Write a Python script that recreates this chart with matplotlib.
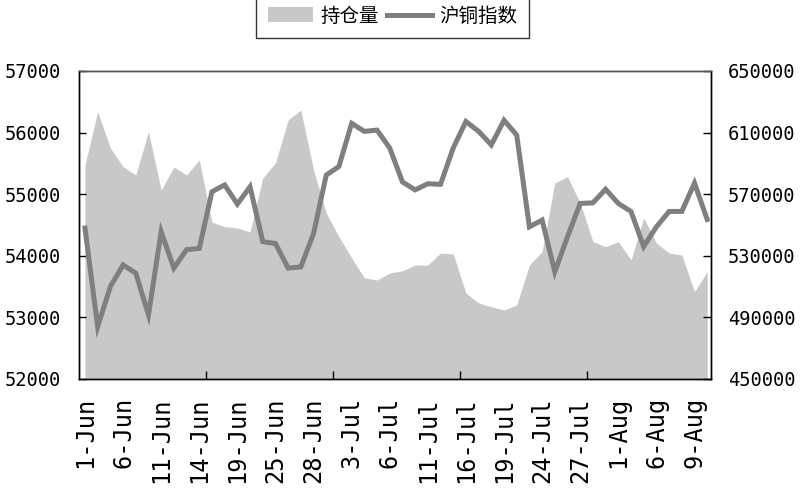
import matplotlib
matplotlib.use('Agg')
import matplotlib.pyplot as plt
from matplotlib.patches import Patch
from matplotlib.lines import Line2D

# 沪铜指数 (left axis)
index_values = [54450, 52850, 53500, 53850, 53720, 53040, 54390, 53800, 54100, 54120,
                55040, 55150, 54840, 55120, 54230, 54200, 53800, 53820, 54360, 55310,
                55450, 56150, 56020, 56040, 55750, 55200, 55070, 55170, 55160, 55750,
                56180, 56020, 55800, 56200, 55960, 54470, 54580, 53740, 54310, 54850,
                54860, 55080, 54850, 54720, 54150, 54470, 54720, 54720, 55180, 54590]
# 持仓量 (right axis)
oi_values = [589000, 623600, 600000, 587900, 582500, 610600, 572700, 587700, 582500, 592200,
             551900, 548900, 548100, 545500, 580500, 590300, 618200, 624700, 585700, 557800,
             542400, 528600, 515600, 514300, 518800, 520300, 524000, 524000, 531800, 531200,
             505800, 499400, 496900, 494800, 498100, 524000, 532700, 577300, 581400, 564300,
             539200, 535900, 539200, 527300, 554500, 538300, 531800, 530500, 506700, 519700]
date_labels = ['1-Jun', '6-Jun', '11-Jun', '14-Jun', '19-Jun', '25-Jun', '28-Jun', '3-Jul',
               '6-Jul', '11-Jul', '16-Jul', '19-Jul', '24-Jul', '27-Jul', '1-Aug', '6-Aug', '9-Aug']
legend_labels = ['持仓量', '沪铜指数']

area_color = '#c8c8c8'
line_color = '#7f7f7f'
mono_font = 'DejaVu Sans Mono'
cjk_font = ['Noto Sans CJK SC', 'DejaVu Sans']

xs = list(range(len(index_values)))

fig = plt.figure(figsize=(8, 5), dpi=100)
ax = fig.add_axes([0.09875, 0.242, 0.79, 0.616])
ax2 = ax.twinx()

ax2.fill_between(xs, oi_values, 450000, color=area_color, linewidth=0)
ax.plot(xs, index_values, color=line_color, linewidth=3.6, solid_joinstyle='miter')

# line above the area
ax.set_zorder(ax2.get_zorder() + 1)
ax.patch.set_visible(False)

ax.set_xlim(-0.47, 49.3)
ax.set_ylim(52000, 57000)
ax2.set_ylim(450000, 650000)
ax.set_yticks(range(52000, 57001, 1000))
ax2.set_yticks(range(450000, 650001, 40000))

ax.set_xticks(range(0, 49, 3))
ax.set_xticklabels(date_labels, rotation=90)
ax.set_xticks([9.5, 19.5, 29.5, 39.5], minor=True)

for a in (ax, ax2):
    for s in a.spines.values():
        s.set_linewidth(1.0)
        s.set_color('black')
    a.spines['top'].set_color('#555555')
ax.tick_params(axis='both', which='both', direction='in', length=5, width=1)
ax.tick_params(axis='x', which='major', length=0, pad=13)
ax.tick_params(axis='x', which='minor', length=6)
ax.tick_params(axis='y', pad=13)
ax2.tick_params(axis='y', direction='in', length=6, width=1, pad=12)

for lbl in ax.get_xticklabels():
    lbl.set_family(mono_font)
    lbl.set_fontsize(17)
for lbl in ax.get_yticklabels() + ax2.get_yticklabels():
    lbl.set_family(mono_font)
    lbl.set_fontsize(13.5)

handles = [Patch(facecolor=area_color, edgecolor='none'),
           Line2D([0], [0], color=line_color, linewidth=3.6)]
leg = fig.legend(handles, legend_labels, loc='upper center', bbox_to_anchor=(0.491, 1.012),
                 ncol=2, frameon=True, fancybox=False, edgecolor='black',
                 prop={'family': cjk_font, 'size': 14}, handlelength=2.3,
                 handleheight=0.8, handletextpad=0.4, columnspacing=0.4,
                 borderpad=0.6, borderaxespad=0)
leg.get_frame().set_linewidth(1.0)

plt.savefig('out.png', dpi=100)
